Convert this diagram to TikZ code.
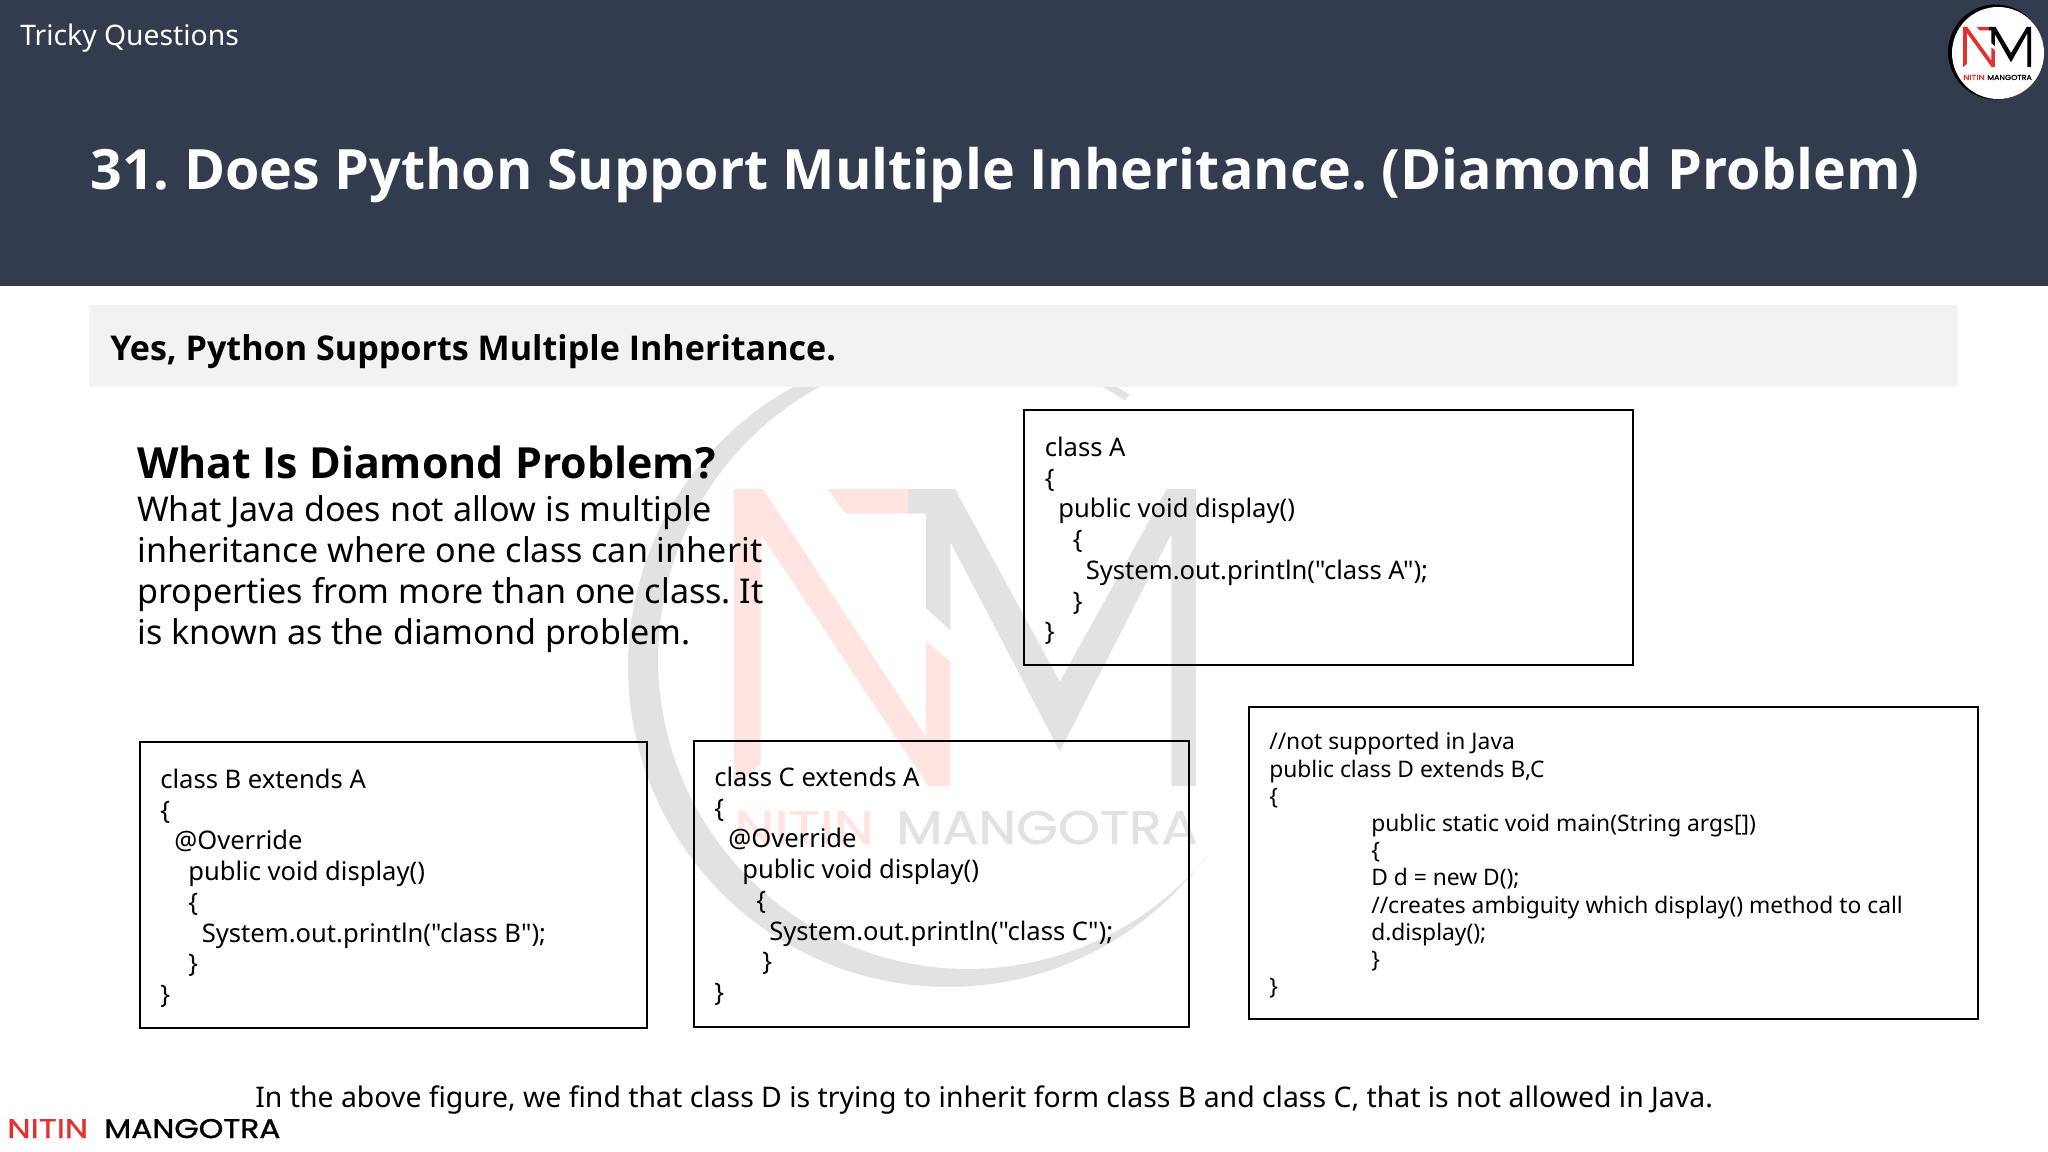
\documentclass[tikz,border=0pt]{standalone}
\usepackage{fontspec}
\setmainfont{Noto Sans}[Ligatures=TeXOff]
\newfontfamily\logofont{Poppins}[FakeBold=1]
\newfontfamily\headf{Open Sans}
\newlength\pxu \setlength\pxu{0.75pt}
\newcommand\fs[1]{\fontsize{#1\pxu}{#1\pxu}\selectfont}
\newcommand\fsl[2]{\fontsize{#1\pxu}{#2\pxu}\selectfont}
\newcommand\ind[1]{\hspace*{#1\pxu}}
\definecolor{headbg}{HTML}{333B4F}
\definecolor{barbg}{HTML}{F2F2F2}
\definecolor{wmgray}{HTML}{E2E2E2}
\definecolor{wmred}{HTML}{FFE4E2}
\definecolor{logored}{HTML}{E53030}
\tikzset{
  codebox/.style={draw=black,line width=1.5pt,anchor=north west,inner sep=0pt,rectangle},
  codetext/.style={anchor=north west,inner sep=0pt,align=left,font=\fsl{25.6}{30.7}},
  smallcode/.style={anchor=north west,inner sep=0pt,align=left,font=\fsl{22.8}{27.2}},
  txt/.style={anchor=base west,inner sep=0pt},
}
\newcommand\nmshape[2]{%
  \fill[#1] (300,290) -- (365,290) -- (730,895) -- (730,660) -- (785,712) -- (785,1015) -- (735,1015) -- (360,400) -- (360,960) -- (300,1015) -- cycle;
  \fill[#1] (510,290) -- (690,290) -- (690,350) -- (550,350) -- cycle;
  \fill[#2] (690,290) -- (795,290) -- (1030,760) -- (1270,290) -- (1335,290) -- (1335,1015) -- (1280,1015) -- (1280,400) -- (1030,930) -- (785,420) -- (785,635) -- (730,580) -- (730,350) -- (690,350) -- cycle;
}
\frenchspacing
\begin{document}
\begin{tikzpicture}[x=0.75pt,y=-0.75pt]
\useasboundingbox (0,0) rectangle (2048,1152);
\fill[white] (0,0) rectangle (2048,1152);
% watermark
\fill[wmgray] plot[domain=36.3:303.6,samples=120] ({948+320*cos(\x)},{667+320*sin(\x)})
  -- plot[domain=301.4:39.6,samples=120] ({968+310*cos(\x)},{659+310*sin(\x)}) -- cycle;
\begin{scope}[shift={(600,370)},xscale=0.4464,yscale=0.41]
\nmshape{wmred}{wmgray}
\end{scope}
\node[txt,font=\logofont\fs{47},text=wmred] (wmn) at (734,844) {\scalebox{1.22}[1]{NITIN}};
\node[txt,font=\logofont\fs{47},text=wmgray] (wmm) at (896,844) {\scalebox{1.14}[1]{MANGOTRA}};
% header
\fill[headbg] (0,0) rectangle (2048,286);
\node[txt,text=white,font=\fs{28.3}] (topic) at (20,46) {Tricky Questions};
\node[txt,text=white,font=\headf\fs{55.6}\bfseries] (title) at (90,190) {31. Does Python Support Multiple Inheritance. (Diamond Problem)};
% header logo
\fill[black] (1995.5,52) circle (47.5);
\fill[white] (1998,53) circle (46);
\begin{scope}[shift={(1963,27)},xscale=0.0657,yscale=0.0552,shift={(-300,-290)}]
\nmshape{logored}{black}
\end{scope}
\node[anchor=base west,inner sep=0pt,font=\logofont\fs{7.2},text=logored] (ln) at (1963,80) {\scalebox{1.22}[1]{NITIN}};
\node[anchor=base west,inner sep=0pt,font=\logofont\fs{7.2},text=black] (lm) at (1987,80) {\scalebox{1.1}[1]{MANGOTRA}};
% answer bar
\fill[barbg] (89,305) rectangle (1958,387);
\node[txt,font=\headf\fs{34.1}\bfseries] (yes) at (110,360) {Yes, Python Supports Multiple Inheritance.};
% explanation
\node[txt,font=\headf\fs{42.9}\bfseries] (what) at (137,478) {What Is Diamond Problem?};
\node[txt,font=\fs{34.1}] (l1) at (137,521) {What Java does not allow is multiple};
\node[txt,font=\fs{34.1}] (l2) at (137,562) {inheritance where one class can inherit};
\node[txt,font=\fs{34.1}] (l3) at (137,603) {properties from more than one class. It};
\node[txt,font=\fs{34.1}] (l4) at (137,644) {is known as the diamond problem.};
% boxes
\node[codebox,minimum width=609*\pxu,minimum height=255*\pxu] (boxa) at (1023,409) {};
\node[codebox,minimum width=507*\pxu,minimum height=286*\pxu] (boxb) at (139,741) {};
\node[codebox,minimum width=495*\pxu,minimum height=286*\pxu] (boxc) at (693,740) {};
\node[codebox,minimum width=729*\pxu,minimum height=312*\pxu] (boxd) at (1248,706) {};
\node[codetext] (codea) at (1044.5,436.8) {class A\\ \{\\ \ind{13.5}public void display()\\ \ind{28}\{\\ \ind{41}System.out.println("class A");\\ \ind{28}\}\\ \}};
\node[codetext] (codeb) at (160,768.8) {class B extends A\\ \{\\ \ind{14}@Override\\ \ind{28}public void display()\\ \ind{28}\{\\ \ind{41.5}System.out.println("class B");\\ \ind{28}\}\\ \}};
\node[codetext] (codec) at (714,766.8) {class C extends A\\ \{\\ \ind{14}@Override\\ \ind{28}public void display()\\ \ind{42}\{\\ \ind{55}System.out.println("class C");\\ \ind{48}\}\\ \}};
\node[smallcode] (coded) at (1269,732.3) {//not supported in Java\\ public class D extends B,C\\ \{\\ \ind{102}public static void main(String args[])\\ \ind{102}\{\\ \ind{102}D d = new D();\\ \ind{102}//creates ambiguity which display() method to call\\ \ind{102}d.display();\\ \ind{102}\}\\ \}};
% footer
\node[txt,font=\fs{28.4}] (note) at (255,1107) {In the above figure, we find that class D is trying to inherit form class B and class C, that is not allowed in Java.};
\node[txt,font=\logofont\fs{27},text=logored] (fn) at (7,1138) {\scalebox{1.23}[1]{NITIN}};
\node[txt,font=\logofont\fs{27},text=black] (fm) at (104,1138) {\scalebox{1.16}[1]{MANGOTRA}};
\end{tikzpicture}
\end{document}
